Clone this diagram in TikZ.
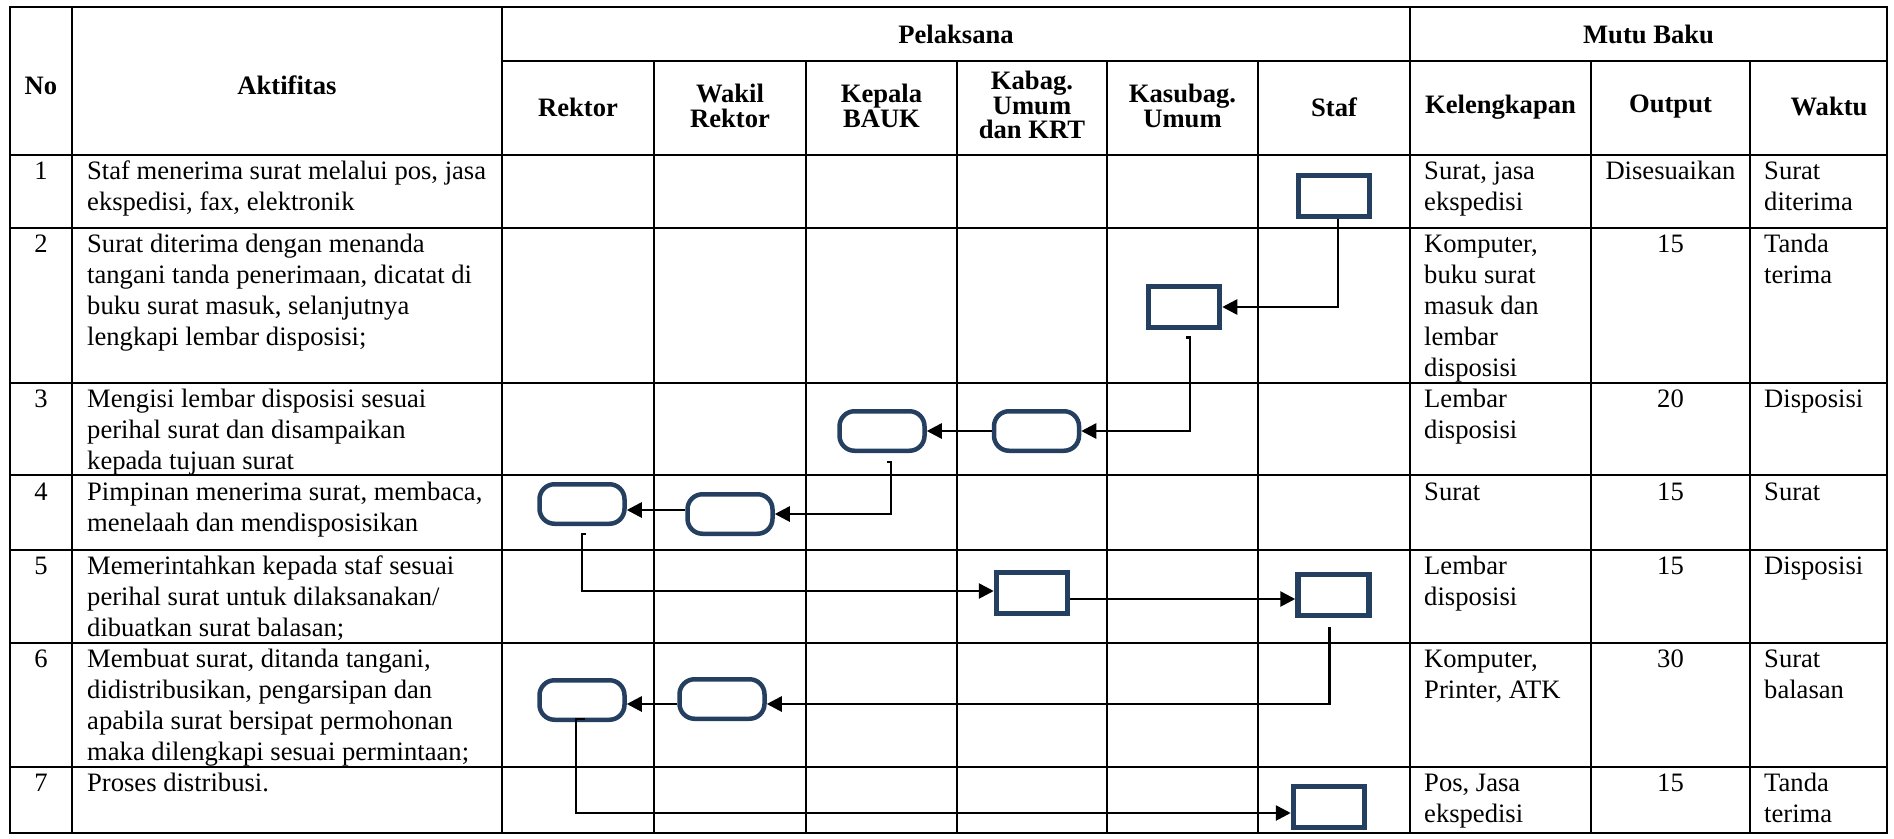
\documentclass[tikz,border=0pt]{standalone}
\usepackage{fontspec}
\setmainfont{Liberation Serif}
\usetikzlibrary{arrows.meta}
\definecolor{shp}{HTML}{243F60}
\tikzset{
  grid/.style={line width=2.6pt, line cap=rect},
  rbox/.style={draw=shp, line width=5.5pt, minimum width=71pt, minimum height=41pt, inner sep=0pt},
  tbox/.style={draw=shp, line width=4.5pt, rounded corners=15pt, minimum width=85pt, minimum height=39.5pt, inner sep=0pt},
  conn/.style={line width=2.7pt, -{Triangle[length=15pt,width=15pt]}},
  hd/.style={font=\fontsize{26.6}{24.5}\selectfont\bfseries, align=center, inner sep=0pt},
  bt/.style={font=\fontsize{26.6}{31}\selectfont, inner sep=0pt, anchor=base west},
  bc/.style={font=\fontsize{26.6}{31}\selectfont, inner sep=0pt, anchor=base},
}
\newcommand\cel[1]{\parbox[t]{420pt}{\raggedright #1}}
\begin{document}
\begin{tikzpicture}[x=1pt,y=-1pt]
\useasboundingbox (0,0) rectangle (1894,838);
% grid
\draw[grid] (10,7) rectangle (1887,833);
\foreach \y in {155,228,383,475,550,643,767} \draw[grid] (10,\y) -- (1887,\y);
\draw[grid] (502,61) -- (1887,61);
\foreach \x in {72,502,1410} \draw[grid] (\x,7) -- (\x,833);
\foreach \x in {654,806,957,1107,1258,1591,1750} \draw[grid] (\x,61) -- (\x,833);
% headers
\node[hd, anchor=base] (hNo) at (41,94) {No};
\node[hd, anchor=base] (hAk) at (287,94) {Aktifitas};
\node[hd, anchor=base] (hPel) at (956,43.5) {Pelaksana};
\node[hd, anchor=base] (hMB) at (1648.5,43.5) {Mutu Baku};
\node[hd] (hR) at (578,107) {Rektor};
\node[hd] (hW) at (730,106) {Wakil\\Rektor};
\node[hd] (hK) at (881.5,106) {Kepala\\BAUK};
\node[hd] (hKb) at (1032,105) {Kabag.\\Umum\\dan KRT};
\node[hd] (hKs) at (1182.5,106) {Kasubag.\\Umum};
\node[hd] (hS) at (1334,107) {Staf};
\node[hd] (hKl) at (1500.5,107) {Kelengkapan};
\node[hd] (hO) at (1670.5,107) {Output};
\node[hd] (hWk) at (1829,106) {Waktu};
% row texts
\foreach \n/\b in {1/179.5,2/252,3/407.5,4/500,5/574.5,6/667.5,7/791.5}
  \node[bc] (n\n) at (41,\b) {\n};
\node[bt] (a1) at (87,179.5) {\cel{Staf menerima surat melalui pos, jasa\\ekspedisi, fax, elektronik}};
\node[bt] (a2) at (87,252) {\cel{Surat diterima dengan menanda\\tangani tanda penerimaan, dicatat di\\buku surat masuk, selanjutnya\\lengkapi lembar disposisi;}};
\node[bt] (a3) at (87,407.5) {\cel{Mengisi lembar disposisi sesuai\\perihal surat dan disampaikan\\kepada tujuan surat}};
\node[bt] (a4) at (87,500) {\cel{Pimpinan menerima surat, membaca,\\menelaah dan mendisposisikan}};
\node[bt] (a5) at (87,574.5) {\cel{Memerintahkan kepada staf sesuai\\perihal surat untuk dilaksanakan/\\dibuatkan surat balasan;}};
\node[bt] (a6) at (87,667.5) {\cel{Membuat surat, ditanda tangani,\\didistribusikan, pengarsipan dan\\apabila surat bersipat permohonan\\maka dilengkapi sesuai permintaan;}};
\node[bt] (a7) at (87,791.5) {\cel{Proses distribusi.}};
% kelengkapan
\node[bt] (k1) at (1424,179.5) {\cel{Surat, jasa\\ekspedisi}};
\node[bt] (k2) at (1424,252) {\cel{Komputer,\\buku surat\\masuk dan\\lembar\\disposisi}};
\node[bt] (k3) at (1424,407.5) {\cel{Lembar\\disposisi}};
\node[bt] (k4) at (1424,500) {\cel{Surat}};
\node[bt] (k5) at (1424,574.5) {\cel{Lembar\\disposisi}};
\node[bt] (k6) at (1424,667.5) {\cel{Komputer,\\Printer, ATK}};
\node[bt] (k7) at (1424,791.5) {\cel{Pos, Jasa\\ekspedisi}};
% output
\node[bc] (o1) at (1670.5,179.5) {Disesuaikan};
\node[bc] (o2) at (1670.5,252) {15};
\node[bc] (o3) at (1670.5,407.5) {20};
\node[bc] (o4) at (1670.5,500) {15};
\node[bc] (o5) at (1670.5,574.5) {15};
\node[bc] (o6) at (1670.5,667.5) {30};
\node[bc] (o7) at (1670.5,791.5) {15};
% waktu
\node[bt] (w1) at (1764,179.5) {\cel{Surat\\diterima}};
\node[bt] (w2) at (1764,252) {\cel{Tanda\\terima}};
\node[bt] (w3) at (1764,407.5) {\cel{Disposisi}};
\node[bt] (w4) at (1764,500) {\cel{Surat}};
\node[bt] (w5) at (1764,574.5) {\cel{Disposisi}};
\node[bt] (w6) at (1764,667.5) {\cel{Surat\\balasan}};
\node[bt] (w7) at (1764,791.5) {\cel{Tanda\\terima}};
% shapes
\node[rbox] (S1) at (1334,196) {};
\node[rbox] (S2) at (1184,307) {};
\node[tbox] (S3) at (1036.5,431) {};
\node[tbox] (S4) at (882,431) {};
\node[tbox] (S5) at (730,514) {};
\node[tbox] (S6) at (582,504) {};
\node[rbox] (S7) at (1032,593) {};
\node[rbox] (S8) at (1333.5,595) {};
\node[tbox] (S9) at (722,699) {};
\node[tbox] (S10) at (582,700) {};
\node[rbox] (S11) at (1329,807) {};
% connectors
\draw[conn] ([xshift=4pt]S1.south) |- (S2.east);
\draw[conn] ([xshift=2pt,yshift=-7pt]S2.south) -- ++(4,0) |- (S3.east);
\draw[conn] (S3.west) -- (S4.east);
\draw[conn] ([xshift=5pt,yshift=-9pt]S4.south) -- ++(4,0) |- (S5.east);
\draw[conn] ([yshift=4pt]S5.west) -- ([yshift=4pt]S5.west -| S6.east);
\draw[conn] ([xshift=4pt,yshift=-8pt]S6.south) -- ++(-4,0) |- ([yshift=2pt]S7.west);
\draw[conn] ([yshift=-6pt]S7.east) -- ([yshift=-6pt]S7.east -| S8.west);
\draw[conn] ([xshift=-4pt,yshift=-9pt]S8.south) |- ([yshift=-5pt]S9.east);
\draw[conn] ([yshift=-5pt]S9.west) -- ([yshift=-5pt]S9.west -| S10.east);
\draw[conn] ([xshift=3pt,yshift=3pt]S10.south) -- ++(-9,0) |- ([yshift=-6pt]S11.west);
\end{tikzpicture}
\end{document}
